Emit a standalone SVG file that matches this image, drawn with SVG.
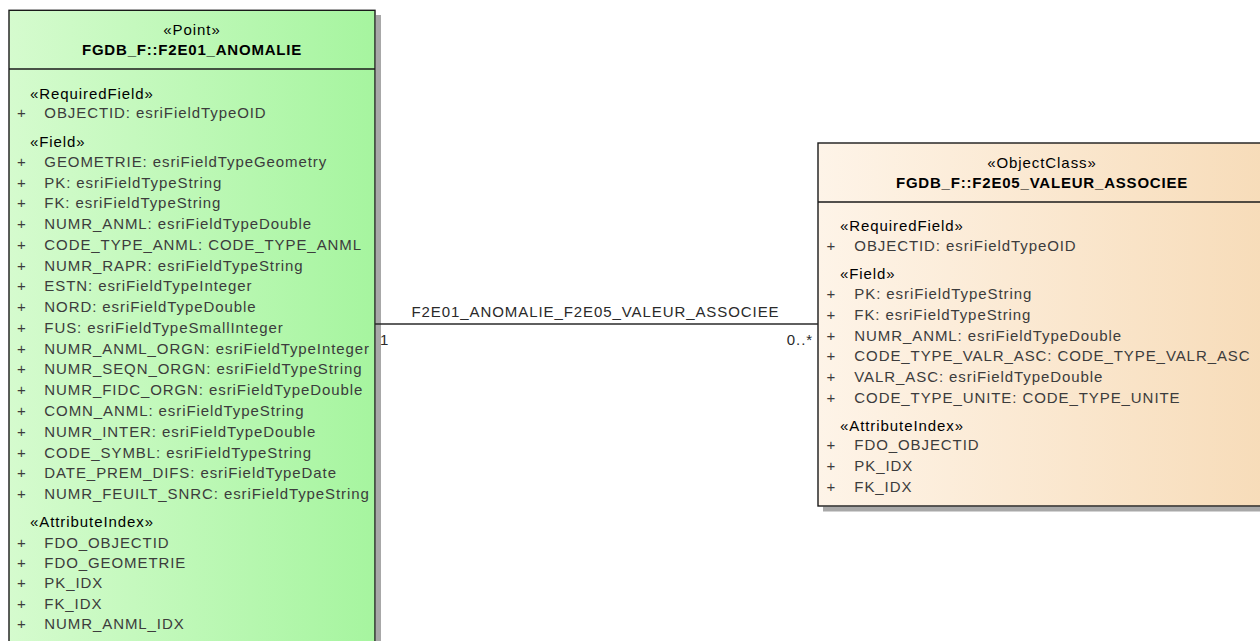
<svg xmlns="http://www.w3.org/2000/svg" width="1260" height="641" viewBox="0 0 1260 641">
<defs>
<linearGradient id="gGreen" x1="0" y1="0" x2="1" y2="0">
<stop offset="0" stop-color="#d5fbce"/>
<stop offset="1" stop-color="#a6f59f"/>
</linearGradient>
<linearGradient id="gCream" x1="0" y1="0" x2="1" y2="0">
<stop offset="0" stop-color="#fef4e8"/>
<stop offset="1" stop-color="#f7dcb9"/>
</linearGradient>
<style>
text{font-family:"Liberation Sans",Arial,sans-serif;font-size:15px;letter-spacing:0.92px}
.st{fill:#000}
.ttl{fill:#000;font-weight:bold;letter-spacing:0.8px}
.it{fill:#3c3c3c}
.box{stroke:#1a1a1a;stroke-width:1.4}
.shadow{fill:#a8a8a8}
.div{stroke:#1a1a1a;stroke-width:1.4}
.conn{stroke:#2a2a2a;stroke-width:1.4;fill:none}
.lbl{fill:#2a2a2a}
</style>
</defs>
<rect width="1260" height="641" fill="#ffffff"/>

<g id="node-anomalie">
<rect class="shadow" x="376" y="15" width="5" height="660"/>
<rect class="box" x="9" y="10.3" width="366" height="660" fill="url(#gGreen)"/>
<line class="div" x1="9" y1="69" x2="375" y2="69"/>
<text class="st" x="192" y="34.5" text-anchor="middle">«Point»</text>
<text class="ttl" x="192" y="55" text-anchor="middle">FGDB_F::F2E01_ANOMALIE</text>
<text class="st" x="30" y="99.3">«RequiredField»</text>
<text class="it" x="17" y="118.3">+</text><text class="it" x="44.3" y="118.3">OBJECTID: esriFieldTypeOID</text>
<text class="st" x="30" y="146.7">«Field»</text>
<text class="it" x="17" y="166.7">+</text><text class="it" x="44.3" y="166.7">GEOMETRIE: esriFieldTypeGeometry</text>
<text class="it" x="17" y="187.5">+</text><text class="it" x="44.3" y="187.5">PK: esriFieldTypeString</text>
<text class="it" x="17" y="208.2">+</text><text class="it" x="44.3" y="208.2">FK: esriFieldTypeString</text>
<text class="it" x="17" y="229">+</text><text class="it" x="44.3" y="229">NUMR_ANML: esriFieldTypeDouble</text>
<text class="it" x="17" y="249.8">+</text><text class="it" x="44.3" y="249.8">CODE_TYPE_ANML: CODE_TYPE_ANML</text>
<text class="it" x="17" y="270.6">+</text><text class="it" x="44.3" y="270.6">NUMR_RAPR: esriFieldTypeString</text>
<text class="it" x="17" y="291.3">+</text><text class="it" x="44.3" y="291.3">ESTN: esriFieldTypeInteger</text>
<text class="it" x="17" y="312.1">+</text><text class="it" x="44.3" y="312.1">NORD: esriFieldTypeDouble</text>
<text class="it" x="17" y="332.9">+</text><text class="it" x="44.3" y="332.9">FUS: esriFieldTypeSmallInteger</text>
<text class="it" x="17" y="353.6">+</text><text class="it" x="44.3" y="353.6">NUMR_ANML_ORGN: esriFieldTypeInteger</text>
<text class="it" x="17" y="374.4">+</text><text class="it" x="44.3" y="374.4">NUMR_SEQN_ORGN: esriFieldTypeString</text>
<text class="it" x="17" y="395.2">+</text><text class="it" x="44.3" y="395.2">NUMR_FIDC_ORGN: esriFieldTypeDouble</text>
<text class="it" x="17" y="416">+</text><text class="it" x="44.3" y="416">COMN_ANML: esriFieldTypeString</text>
<text class="it" x="17" y="436.7">+</text><text class="it" x="44.3" y="436.7">NUMR_INTER: esriFieldTypeDouble</text>
<text class="it" x="17" y="457.5">+</text><text class="it" x="44.3" y="457.5">CODE_SYMBL: esriFieldTypeString</text>
<text class="it" x="17" y="478.3">+</text><text class="it" x="44.3" y="478.3">DATE_PREM_DIFS: esriFieldTypeDate</text>
<text class="it" x="17" y="499">+</text><text class="it" x="44.3" y="499">NUMR_FEUILT_SNRC: esriFieldTypeString</text>
<text class="st" x="30" y="526.7">«AttributeIndex»</text>
<text class="it" x="17" y="547.5">+</text><text class="it" x="44.3" y="547.5">FDO_OBJECTID</text>
<text class="it" x="17" y="568">+</text><text class="it" x="44.3" y="568">FDO_GEOMETRIE</text>
<text class="it" x="17" y="588.3">+</text><text class="it" x="44.3" y="588.3">PK_IDX</text>
<text class="it" x="17" y="608.7">+</text><text class="it" x="44.3" y="608.7">FK_IDX</text>
<text class="it" x="17" y="629">+</text><text class="it" x="44.3" y="629">NUMR_ANML_IDX</text>
</g>

<g id="node-valeur">
<rect class="shadow" x="823" y="506.5" width="450" height="5"/>
<rect class="box" x="818" y="143" width="448" height="363" fill="url(#gCream)"/>
<line class="div" x1="818" y1="202" x2="1266" y2="202"/>
<text class="st" x="1042" y="168.3" text-anchor="middle">«ObjectClass»</text>
<text class="ttl" x="1042" y="188" text-anchor="middle">FGDB_F::F2E05_VALEUR_ASSOCIEE</text>
<text class="st" x="840" y="231">«RequiredField»</text>
<text class="it" x="826.6" y="250.7">+</text><text class="it" x="854.3" y="250.7">OBJECTID: esriFieldTypeOID</text>
<text class="st" x="840" y="279">«Field»</text>
<text class="it" x="826.6" y="299">+</text><text class="it" x="854.3" y="299">PK: esriFieldTypeString</text>
<text class="it" x="826.6" y="319.8">+</text><text class="it" x="854.3" y="319.8">FK: esriFieldTypeString</text>
<text class="it" x="826.6" y="340.5">+</text><text class="it" x="854.3" y="340.5">NUMR_ANML: esriFieldTypeDouble</text>
<text class="it" x="826.6" y="361.3">+</text><text class="it" x="854.3" y="361.3">CODE_TYPE_VALR_ASC: CODE_TYPE_VALR_ASC</text>
<text class="it" x="826.6" y="382.1">+</text><text class="it" x="854.3" y="382.1">VALR_ASC: esriFieldTypeDouble</text>
<text class="it" x="826.6" y="402.8">+</text><text class="it" x="854.3" y="402.8">CODE_TYPE_UNITE: CODE_TYPE_UNITE</text>
<text class="st" x="840" y="430.7">«AttributeIndex»</text>
<text class="it" x="826.6" y="450">+</text><text class="it" x="854.3" y="450">FDO_OBJECTID</text>
<text class="it" x="826.6" y="470.7">+</text><text class="it" x="854.3" y="470.7">PK_IDX</text>
<text class="it" x="826.6" y="491.5">+</text><text class="it" x="854.3" y="491.5">FK_IDX</text>
</g>

<g id="connectors">
<line class="conn" x1="375" y1="324" x2="818" y2="324"/>
<text class="lbl" x="595.5" y="316.5" text-anchor="middle">F2E01_ANOMALIE_F2E05_VALEUR_ASSOCIEE</text>
<text class="lbl" x="380" y="345">1</text>
<text class="lbl" x="813" y="345" text-anchor="end">0..*</text>
</g>
</svg>
